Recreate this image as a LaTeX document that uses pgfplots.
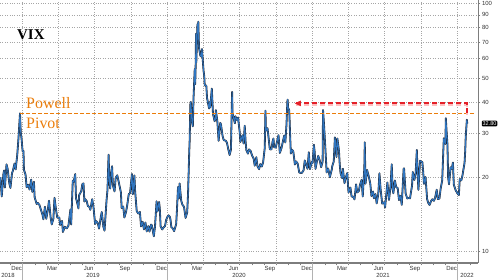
\documentclass[border=0pt]{standalone}
\usepackage{pgfplots}
\usepackage{pgfplotstable}
\pgfplotsset{compat=1.18}
\usepackage{fontspec}
\setmainfont{Liberation Serif}
\newfontfamily\arialf{Liberation Sans}
\definecolor{vixblue}{RGB}{48,118,192}
\definecolor{vixdark}{RGB}{30,32,40}
\definecolor{pivotorange}{RGB}{235,125,10}
\definecolor{arrowred}{RGB}{228,32,40}
\definecolor{axisgray}{RGB}{125,125,125}
% t = decimal year
\pgfplotstableread{
t v
2018.846 19.96
2018.855 16.7
2018.866 20.45
2018.871 21.25
2018.877 18.14
2018.888 22.48
2018.896 21.52
2018.907 18.9
2018.915 18.07
2018.926 20.74
2018.932 21.19
2018.943 22.64
2018.951 21.46
2018.962 24.52
2018.970 28.38
2018.981 36.1
2018.986 30.41
2018.992 28.34
2018.999 25.42
2019.005 25.45
2019.008 21.38
2019.019 20.47
2019.027 18.19
2019.038 18.6
2019.047 17.8
2019.058 19.52
2019.066 17.42
2019.077 19.13
2019.082 16.57
2019.096 15.57
2019.104 15.72
2019.115 15.43
2019.123 14.91
2019.137 14.02
2019.142 13.51
2019.153 15.17
2019.162 13.57
2019.173 14.74
2019.181 16.05
2019.192 13.77
2019.200 12.88
2019.211 13.56
2019.219 16.48
2019.230 14.68
2019.238 13.71
2019.252 13.74
2019.258 12.82
2019.271 13.3
2019.277 12.01
2019.290 12.6
2019.304 12.42
2019.315 12.73
2019.329 14.8
2019.334 12.87
2019.345 19.32
2019.351 19.1
2019.362 20.55
2019.367 16.44
2019.373 15.96
2019.384 14.95
2019.389 16.92
2019.403 17.5
2019.411 18.71
2019.419 18.86
2019.425 15.93
2019.430 16.3
2019.441 15.99
2019.449 15.28
2019.460 15.15
2019.466 14.75
2019.479 16.28
2019.488 15.08
2019.499 12.93
2019.507 13.28
2019.518 13.03
2019.526 12.39
2019.540 13.97
2019.545 14.45
2019.556 12.61
2019.564 12.16
2019.578 16.12
2019.584 17.61
2019.592 24.59
2019.597 19.49
2019.603 17.97
2019.611 21.09
2019.616 22.1
2019.622 18.47
2019.633 17.5
2019.641 19.87
2019.652 20.31
2019.663 18.98
2019.677 17.33
2019.682 15.0
2019.693 15.2
2019.701 13.74
2019.712 14.44
2019.720 15.32
2019.731 17.05
2019.740 17.22
2019.753 20.56
2019.759 17.04
2019.770 20.28
2019.775 17.57
2019.786 14.57
2019.797 14.25
2019.808 14.46
2019.816 12.65
2019.827 13.2
2019.836 12.3
2019.846 13.1
2019.855 12.07
2019.866 12.68
2019.874 12.05
2019.885 12.86
2019.890 12.78
2019.904 11.54
2019.912 12.62
2019.923 15.96
2019.929 14.52
2019.940 15.86
2019.945 14.99
2019.951 12.63
2019.962 12.29
2019.970 12.51
2019.981 12.67
2019.989 13.43
2019.997 13.78
2020.005 14.02
2020.014 13.85
2020.019 13.45
2020.025 12.56
2020.036 12.39
2020.044 12.1
2020.058 12.91
2020.063 14.56
2020.071 18.23
2020.077 16.39
2020.082 18.84
2020.093 16.05
2020.101 15.47
2020.112 15.18
2020.123 13.68
2020.134 14.38
2020.140 17.08
2020.148 25.03
2020.151 27.85
2020.156 39.16
2020.159 40.11
2020.167 33.42
2020.173 31.99
2020.178 41.94
2020.186 54.46
2020.189 47.3
2020.192 53.9
2020.195 75.47
2020.197 57.83
2020.205 82.69
2020.208 75.91
2020.211 84.5
2020.214 72.0
2020.216 66.04
2020.225 61.59
2020.227 61.67
2020.233 61.0
2020.236 65.54
2020.247 53.54
2020.252 50.91
2020.255 46.8
2020.266 46.7
2020.271 41.67
2020.285 37.76
2020.290 40.11
2020.293 38.15
2020.304 45.41
2020.312 35.93
2020.323 33.57
2020.329 34.15
2020.332 37.19
2020.342 33.61
2020.351 27.98
2020.362 33.04
2020.367 32.61
2020.378 29.3
2020.386 28.16
2020.400 28.01
2020.408 27.51
2020.419 25.66
2020.427 24.52
2020.436 25.81
2020.444 44.0
2020.447 36.09
2020.455 34.4
2020.463 32.94
2020.466 35.12
2020.479 33.84
2020.485 34.73
2020.496 30.43
2020.501 27.68
2020.515 29.43
2020.523 27.29
2020.531 32.19
2020.537 27.76
2020.542 25.68
2020.553 24.84
2020.561 25.84
2020.572 25.44
2020.581 24.46
2020.592 23.76
2020.600 22.21
2020.611 24.03
2020.619 22.05
2020.630 21.51
2020.638 22.54
2020.649 22.03
2020.658 22.96
2020.669 26.12
2020.674 37.0
2020.677 30.75
2020.688 31.46
2020.693 29.71
2020.704 25.85
2020.715 25.83
2020.723 27.78
2020.729 28.58
2020.734 26.38
2020.745 26.27
2020.753 27.63
2020.764 29.48
2020.773 25.0
2020.784 26.07
2020.792 27.41
2020.803 29.35
2020.811 27.55
2020.819 32.46
2020.825 40.28
2020.827 41.0
2020.830 38.02
2020.838 37.13
2020.844 29.57
2020.849 24.86
2020.858 25.75
2020.866 25.35
2020.877 22.45
2020.885 23.11
2020.896 22.66
2020.907 20.84
2020.918 20.77
2020.926 20.79
2020.937 21.3
2020.945 23.31
2020.956 22.29
2020.964 21.57
2020.973 25.16
2020.981 21.53
2020.995 23.08
2020.999 22.75
2021.008 26.97
2021.014 25.07
2021.019 21.56
2021.030 23.33
2021.038 24.34
2021.049 23.24
2021.058 21.91
2021.068 23.02
2021.071 37.21
2021.077 33.09
2021.088 25.56
2021.096 20.87
2021.107 21.63
2021.118 19.97
2021.132 21.5
2021.134 22.05
2021.145 23.11
2021.153 28.89
2021.156 27.95
2021.164 24.1
2021.170 28.57
2021.181 25.47
2021.186 22.56
2021.192 20.69
2021.203 19.79
2021.208 21.58
2021.219 18.88
2021.227 19.81
2021.238 20.74
2021.247 17.33
2021.260 18.12
2021.268 16.69
2021.279 16.65
2021.288 16.25
2021.299 18.68
2021.307 17.33
2021.318 17.56
2021.326 18.61
2021.337 19.48
2021.345 16.69
2021.356 21.84
2021.359 27.59
2021.364 18.81
2021.375 21.34
2021.386 20.15
2021.397 18.84
2021.405 16.76
2021.416 17.48
2021.422 16.42
2021.433 17.07
2021.441 15.65
2021.452 17.02
2021.460 20.7
2021.468 17.89
2021.479 15.62
2021.493 15.83
2021.499 15.07
2021.515 19.0
2021.526 16.17
2021.537 18.45
2021.545 22.5
2021.551 17.91
2021.556 17.2
2021.567 19.36
2021.575 18.24
2021.586 18.04
2021.595 16.15
2021.605 16.79
2021.614 15.45
2021.627 21.57
2021.630 21.67
2021.641 17.15
2021.652 16.39
2021.663 16.48
2021.671 16.41
2021.685 18.49
2021.690 20.95
2021.701 19.46
2021.710 20.81
2021.718 25.71
2021.723 20.87
2021.729 17.75
2021.740 23.25
2021.745 23.14
2021.756 22.96
2021.762 21.0
2021.767 18.77
2021.778 20.0
2021.789 16.3
2021.797 15.7
2021.806 15.43
2021.816 15.98
2021.825 16.26
2021.836 16.03
2021.844 16.48
2021.855 17.78
2021.863 16.29
2021.874 16.37
2021.882 17.91
2021.893 19.38
2021.904 28.62
2021.915 27.19
2021.918 34.5
2021.923 30.67
2021.929 27.18
2021.934 19.9
2021.940 18.69
2021.951 21.89
2021.959 21.57
2021.967 22.87
2021.973 18.63
2021.986 17.68
2021.997 17.22
2022.008 16.91
2022.014 19.61
2022.025 19.4
2022.033 20.31
2022.047 22.79
2022.052 25.59
2022.055 28.85
2022.063 34.0
2022.066 32.8
}\vixdata
\begin{document}
\begin{tikzpicture}
\useasboundingbox (0,-17bp) rectangle (500bp,263bp);
\begin{axis}[
  scale only axis, width=478.3bp, height=263bp,
  at={(0,0)}, anchor=south west,
  xmin=0.843, xmax=4.142,
  ymode=log, ymin=9.005, ymax=103.3,
  axis x line*=bottom, axis y line*=right,
  axis line style={axisgray, line width=1.3bp},
  clip=false,
  xtick={0.958,1.203,1.455,1.705,1.958,2.203,2.455,2.705,2.958,3.203,3.455,3.705,3.958},
  xticklabels={Dec,Mar,Jun,Sep,Dec,Mar,Jun,Sep,Dec,Mar,Jun,Sep,Dec},
  minor xtick={0.915,1,1.085,1.162,1.247,1.329,1.414,1.496,1.581,1.666,1.748,1.833,1.915,2,2.085,2.162,2.247,2.329,2.414,2.496,2.581,2.666,2.748,2.833,2.915,3,3.085,3.162,3.247,3.329,3.414,3.496,3.581,3.666,3.748,3.833,3.915,4,4.085},
  extra x ticks={1,1.247,1.496,1.748,2,2.247,2.496,2.748,3,3.247,3.496,3.748,4},
  extra x tick labels={},
  extra x tick style={xmajorgrids=true},
  ytick={10,20,30,40,50,60,70,80,90,100},
  yticklabels={10,20,30,40,50,60,70,80,90,100},
  yminorticks=false,
  ymajorgrids=true,
  major grid style={dotted, gray!70, line width=0.6bp},
  tick align=outside,
  major tick length=2bp, minor tick length=2.5bp,
  tick style={axisgray, line width=0.6bp},
  major x tick style={draw=none},
  tick label style={font=\arialf\fontsize{6}{6}\selectfont, text=black!80},
  yticklabel style={inner sep=1.5bp},
  xticklabel style={inner sep=1bp},
]
\addplot[vixdark, line width=1.8bp, line join=round] table[x expr=\thisrow{t}-2018,y=v] {\vixdata};
\addplot[vixblue, line width=1.05bp, line join=round] table[x expr=\thisrow{t}-2018,y=v] {\vixdata};
\draw[pivotorange, line width=1.6bp, dash pattern=on 4bp off 2bp] (axis cs:0.981,36.1) -- (axis cs:4.11,36.1);
\draw[red!25, line width=2.2bp, dash pattern=on 5.5bp off 2.5bp] ([yshift=-1.8bp]axis cs:4.066,36.1) -- ([yshift=-1.8bp]axis cs:4.066,39.6) -- ([yshift=-1.8bp]axis cs:2.885,39.6);
\draw[arrowred, line width=2.2bp, dash pattern=on 5.5bp off 2.5bp] (axis cs:4.066,36.1) -- (axis cs:4.066,39.6) -- (axis cs:2.885,39.6);
\fill[arrowred] (axis cs:2.876,39.6) -- ([xshift=6bp,yshift=2.8bp]axis cs:2.876,39.6) -- ([xshift=6bp,yshift=-2.8bp]axis cs:2.876,39.6) -- cycle;
\node[anchor=base west, inner sep=0pt, font=\fontsize{15}{15}\selectfont\bfseries] at (rel axis cs:0.0355,0.848) {VIX};
\node[anchor=base west, inner sep=0pt, text=pivotorange, font=\fontsize{16}{16}\selectfont] at (rel axis cs:0.0544,0.589) {Powell};
\node[anchor=base west, inner sep=0pt, text=pivotorange, font=\fontsize{16}{16}\selectfont] at (rel axis cs:0.0544,0.510) {Pivot};
\end{axis}
\foreach \xx in {22.7,167.7,312.7,457.7} {\draw[gray!60, line width=0.6bp] (\xx bp,-1bp) -- (\xx bp,-17bp);}
\foreach \xx/\yy in {8/2018,93/2019,239/2020,383/2021,467/2022} {\node[font=\arialf\fontsize{6}{6}\selectfont, text=black!80, inner sep=0pt] at (\xx bp,-12.5bp) {\yy};}
\node[fill=black, text=white, inner sep=0.9bp, rounded corners=1bp, font=\arialf\fontsize{5.5}{5.5}\selectfont] at (489.5bp,139.5bp) {32.80};
\end{tikzpicture}
\end{document}
